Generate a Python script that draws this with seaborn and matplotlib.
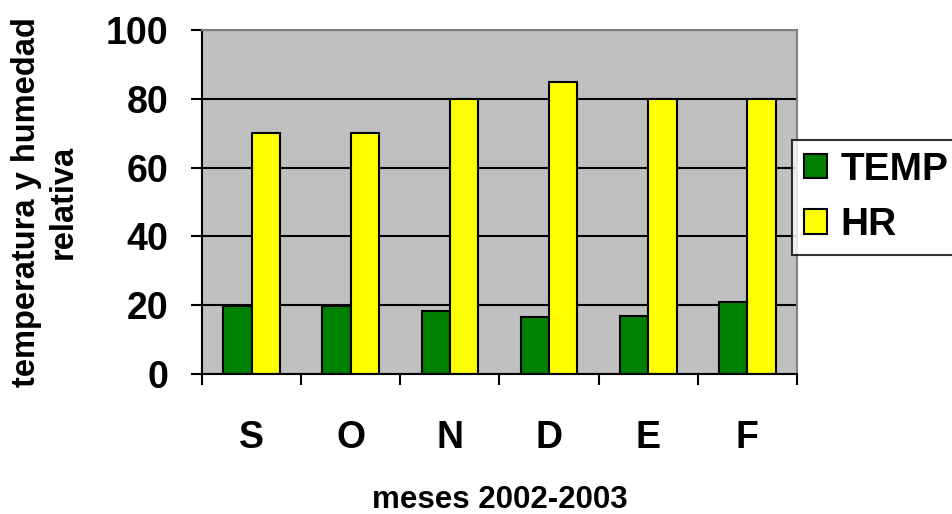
import matplotlib
matplotlib.use("Agg")
import matplotlib.pyplot as plt
import seaborn as sns
import pandas as pd
import numpy as np

meses = ["S", "O", "N", "D", "E", "F"]
temp = [19.7, 19.7, 18.2, 16.5, 17.0, 21.0]
hr = [70, 70, 80, 85, 80, 80]
series = ["TEMP", "HR"]
colores = ["#008000", "#FFFF00"]
yticks = [0, 20, 40, 60, 80, 100]

sns.set_style("white")
plt.rcParams["font.family"] = ["Liberation Sans", "DejaVu Sans"]
plt.rcParams["font.weight"] = "bold"
for k in ["text.color", "axes.labelcolor", "xtick.color", "ytick.color"]:
    plt.rcParams[k] = "black"

df = pd.DataFrame({
    "mes": meses * 2,
    "serie": [series[0]] * len(meses) + [series[1]] * len(meses),
    "valor": temp + hr,
})

fig = plt.figure(figsize=(9.52, 5.14), dpi=100)
ax = fig.add_axes([202 / 952, 1 - 374 / 514, 595 / 952, 344 / 514])
ax.set_facecolor("#C0C0C0")

sns.barplot(data=df, x="mes", y="valor", hue="serie", order=meses,
            hue_order=series, palette=colores, width=0.571, saturation=1,
            edgecolor="black", linewidth=1.5, ax=ax, legend=False)

ax.set_ylim(0, 100)
ax.set_xlim(-0.5, len(meses) - 0.5)
ax.set_yticks(yticks)
ax.yaxis.grid(True, color="black", linewidth=1.5)
ax.set_axisbelow(True)

for s in ["top", "right"]:
    ax.spines[s].set_color("#808080")
    ax.spines[s].set_linewidth(1.5)
for s in ["left", "bottom"]:
    ax.spines[s].set_color("black")
    ax.spines[s].set_linewidth(1.5)

ax.tick_params(axis="y", labelsize=27, length=8, width=1.5, pad=16,
               left=True, color="black")
ax.tick_params(axis="x", which="major", labelsize=27, length=0, pad=33)
ax.set_xticks(np.arange(-0.5, len(meses)), minor=True)
ax.tick_params(axis="x", which="minor", length=8, width=1.5, bottom=True,
               color="black")

ax.set_xlabel("meses 2002-2003", fontsize=22.5, fontweight="bold", labelpad=21)
ax.set_ylabel("temperatura y humedad\nrelativa", fontsize=23.5,
              fontweight="bold", labelpad=20, linespacing=1.2)

handles = [plt.Rectangle((0, 0), 1, 1, facecolor=c, edgecolor="black",
                         linewidth=1.5) for c in colores]
leg = fig.legend(handles, series, loc="upper left",
                 bbox_to_anchor=(792 / 952, 1 - 140 / 514),
                 fontsize=28, frameon=True, fancybox=False, shadow=False,
                 borderaxespad=0, handlelength=0.6, handleheight=0.6,
                 handletextpad=0.35, labelspacing=0.5, borderpad=0.3)
leg.get_frame().set_edgecolor("black")
leg.get_frame().set_linewidth(1.5)
for t in leg.get_texts():
    t.set_fontweight("bold")

fig.savefig("out.png", dpi=100, facecolor="white")
